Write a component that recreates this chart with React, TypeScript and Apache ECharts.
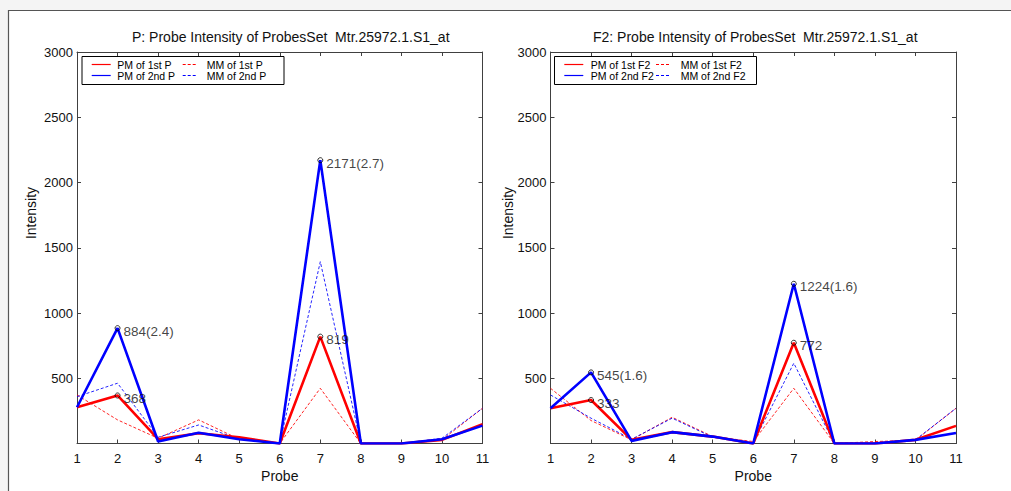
import React, { useEffect, useRef } from "react";
import * as echarts from "echarts";

const probes = [1, 2, 3, 4, 5, 6, 7, 8, 9, 10, 11];

// Left panel (P)
const pm1P = [278, 368, 33, 79, 48, 0, 819, 0, 0, 28, 148];
const pm2P = [278, 884, 15, 83, 33, 0, 2171, 0, 0, 33, 137];
const mm1P = [372, 181, 40, 181, 33, 0, 423, 0, 0, 28, 270];
const mm2P = [359, 462, 48, 142, 33, 0, 1393, 0, 0, 40, 270];
const notesP: [number, number, string][] = [
  [2, 884, "884(2.4)"],
  [2, 368, "368"],
  [7, 2171, "2171(2.7)"],
  [7, 819, "819"],
];

// Right panel (F2)
const pm1F = [270, 333, 28, 87, 53, 0, 772, 0, 0, 28, 135];
const pm2F = [270, 545, 20, 87, 53, 0, 1224, 0, 0, 28, 81];
const mm1F = [423, 176, 28, 201, 53, 15, 423, 0, 15, 25, 270];
const mm2F = [372, 194, 33, 194, 48, 5, 615, 0, 0, 28, 270];
const notesF: [number, number, string][] = [
  [2, 545, "545(1.6)"],
  [2, 333, "333"],
  [7, 1224, "1224(1.6)"],
  [7, 772, "772"],
];

const titles = [
  "P: Probe Intensity of ProbesSet  Mtr.25972.1.S1_at",
  "F2: Probe Intensity of ProbesSet  Mtr.25972.1.S1_at",
];
const legendP = ["PM of 1st P", "MM of 1st P", "PM of 2nd P", "MM of 2nd P"];
const legendF = ["PM of 1st F2", "MM of 1st F2", "PM of 2nd F2", "MM of 2nd F2"];

const FONT = "Liberation Sans, Arial, sans-serif";
const AX = "#404040";
const RED = "#ff0000";
const BLUE = "#0000ff";

function pairs(vals: number[]) {
  return probes.map((p, i) => [p, vals[i]]);
}

export default function App() {
  const ref = useRef<HTMLDivElement>(null);
  useEffect(() => {
    if (!ref.current) return;
    const chart = echarts.init(ref.current, null, { renderer: "svg" });

    const grids = [
      { left: 77, top: 52, width: 405.5, height: 391.5 },
      { left: 550.5, top: 52, width: 405.5, height: 391.5 },
    ];

    const xAxes: any[] = [];
    const yAxes: any[] = [];
    [0, 1].forEach((g) => {
      xAxes.push({
        type: "value",
        gridIndex: g,
        min: 1,
        max: 11,
        interval: 1,
        position: "bottom",
        name: "Probe",
        nameLocation: "middle",
        nameGap: 24,
        nameTextStyle: { fontFamily: FONT, fontSize: 14, color: "#111" },
        axisLine: { show: true, onZero: false, lineStyle: { color: AX, width: 1 } },
        axisTick: { show: true, inside: true, length: 4, lineStyle: { color: AX } },
        axisLabel: { show: true, margin: 8, fontFamily: FONT, fontSize: 13, color: "#111" },
        splitLine: { show: false },
      });
      xAxes.push({
        type: "value",
        gridIndex: g,
        min: 1,
        max: 11,
        interval: 1,
        position: "top",
        axisLine: { show: true, onZero: false, lineStyle: { color: AX, width: 1 } },
        axisTick: { show: true, inside: true, length: 4, lineStyle: { color: AX } },
        axisLabel: { show: false },
        splitLine: { show: false },
      });
      yAxes.push({
        type: "value",
        gridIndex: g,
        min: 0,
        max: 3000,
        interval: 500,
        position: "left",
        axisLine: { show: true, onZero: false, lineStyle: { color: AX, width: 1 } },
        axisTick: { show: true, inside: true, length: 4, lineStyle: { color: AX } },
        axisLabel: {
          show: true,
          margin: 4,
          fontFamily: FONT,
          fontSize: 13,
          color: "#111",
          formatter: (v: number) => (v === 0 ? "" : String(v)),
        },
        splitLine: { show: false },
      });
      yAxes.push({
        type: "value",
        gridIndex: g,
        min: 0,
        max: 3000,
        interval: 500,
        position: "right",
        axisLine: { show: true, onZero: false, lineStyle: { color: AX, width: 1 } },
        axisTick: { show: true, inside: true, length: 4, lineStyle: { color: AX } },
        axisLabel: { show: false },
        splitLine: { show: false },
      });
    });

    const lineSeries = (name: string, vals: number[], g: number, color: string, thick: boolean) => ({
      type: "line",
      name,
      xAxisIndex: g * 2,
      yAxisIndex: g * 2,
      data: pairs(vals),
      showSymbol: false,
      symbol: "none",
      lineStyle: thick
        ? { color, width: 2.6, type: "solid" }
        : { color, width: 1, type: [3, 2], opacity: 0.85 },
      z: thick ? 3 : 2,
    });

    const noteSeries = (notes: [number, number, string][], g: number) => ({
      type: "scatter",
      xAxisIndex: g * 2,
      yAxisIndex: g * 2,
      data: notes.map((n) => [n[0], n[1], n[2]]),
      symbol: "circle",
      symbolSize: 5,
      itemStyle: { color: "rgba(255,255,255,0)", borderColor: "#000", borderWidth: 1 },
      label: {
        show: true,
        position: "right",
        distance: 3,
        offset: [0, 3],
        formatter: (p: any) => p.data[2],
        fontFamily: FONT,
        fontSize: 13.5,
        color: "#111",
      },
      z: 5,
    });

    const series = [
      lineSeries(legendP[1], mm1P, 0, RED, false),
      lineSeries(legendP[3], mm2P, 0, BLUE, false),
      lineSeries(legendP[0], pm1P, 0, RED, true),
      lineSeries(legendP[2], pm2P, 0, BLUE, true),
      noteSeries(notesP, 0),
      lineSeries(legendF[1], mm1F, 1, RED, false),
      lineSeries(legendF[3], mm2F, 1, BLUE, false),
      lineSeries(legendF[0], pm1F, 1, RED, true),
      lineSeries(legendF[2], pm2F, 1, BLUE, true),
      noteSeries(notesF, 1),
    ];

    const legendBox = (x0: number, labels: string[], lineX: number, textX: number, dashX: number, dashTextX: number) => {
      const rows = [64.5, 75.5];
      const children: any[] = [
        {
          type: "rect",
          shape: { x: x0 + 0.5, y: 56.5, width: 202, height: 28 },
          style: { fill: "#fff", stroke: "#000", lineWidth: 1 },
        },
      ];
      rows.forEach((y, r) => {
        const color = r === 0 ? RED : BLUE;
        children.push({
          type: "line",
          shape: { x1: lineX, y1: y, x2: lineX + 19, y2: y },
          style: { stroke: color, lineWidth: 1.2 },
        });
        children.push({
          type: "text",
          x: textX,
          y,
          style: { text: labels[r * 2], font: `10.5px ${FONT}`, fill: "#000", verticalAlign: "middle", align: "left" },
        });
        children.push({
          type: "line",
          shape: { x1: dashX, y1: y, x2: dashX + 15, y2: y },
          style: { stroke: color, lineWidth: 1.2, lineDash: [3, 2] },
        });
        children.push({
          type: "text",
          x: dashTextX,
          y,
          style: { text: labels[r * 2 + 1], font: `10.5px ${FONT}`, fill: "#000", verticalAlign: "middle", align: "left" },
        });
      });
      return { type: "group", children, z: 10 };
    };

    chart.setOption({
      animation: false,
      backgroundColor: "#f4f4f4",
      title: [
        { text: titles[0], left: 132, top: 30, textStyle: { fontFamily: FONT, fontSize: 14, fontWeight: "normal", color: "#111" }, padding: 0 },
        { text: titles[1], left: 593, top: 30, textStyle: { fontFamily: FONT, fontSize: 14, fontWeight: "normal", color: "#111" }, padding: 0 },
      ],
      grid: grids,
      xAxis: xAxes,
      yAxis: yAxes,
      series,
      graphic: [
        {
          type: "rect",
          z: -10,
          silent: true,
          shape: { x: 8.5, y: 10.5, width: 1400, height: 800 },
          style: { fill: "#fff", stroke: "#555", lineWidth: 1.2 },
        },
        {
          type: "text",
          x: 31,
          y: 213,
          rotation: Math.PI / 2,
          style: { text: "Intensity", font: `14px ${FONT}`, fill: "#111", align: "center", verticalAlign: "middle" },
        },
        {
          type: "text",
          x: 508,
          y: 213,
          rotation: Math.PI / 2,
          style: { text: "Intensity", font: `14px ${FONT}`, fill: "#111", align: "center", verticalAlign: "middle" },
        },
        legendBox(81.5, legendP, 91.7, 117.3, 182.7, 206.7),
        legendBox(554, legendF, 564.3, 590.7, 656, 680.7),
      ],
    });
    return () => chart.dispose();
  }, []);
  return (
    <div
      ref={ref}
      style={{ position: "fixed", left: 0, top: 0, width: 1011, height: 491 }}
    />
  );
}
